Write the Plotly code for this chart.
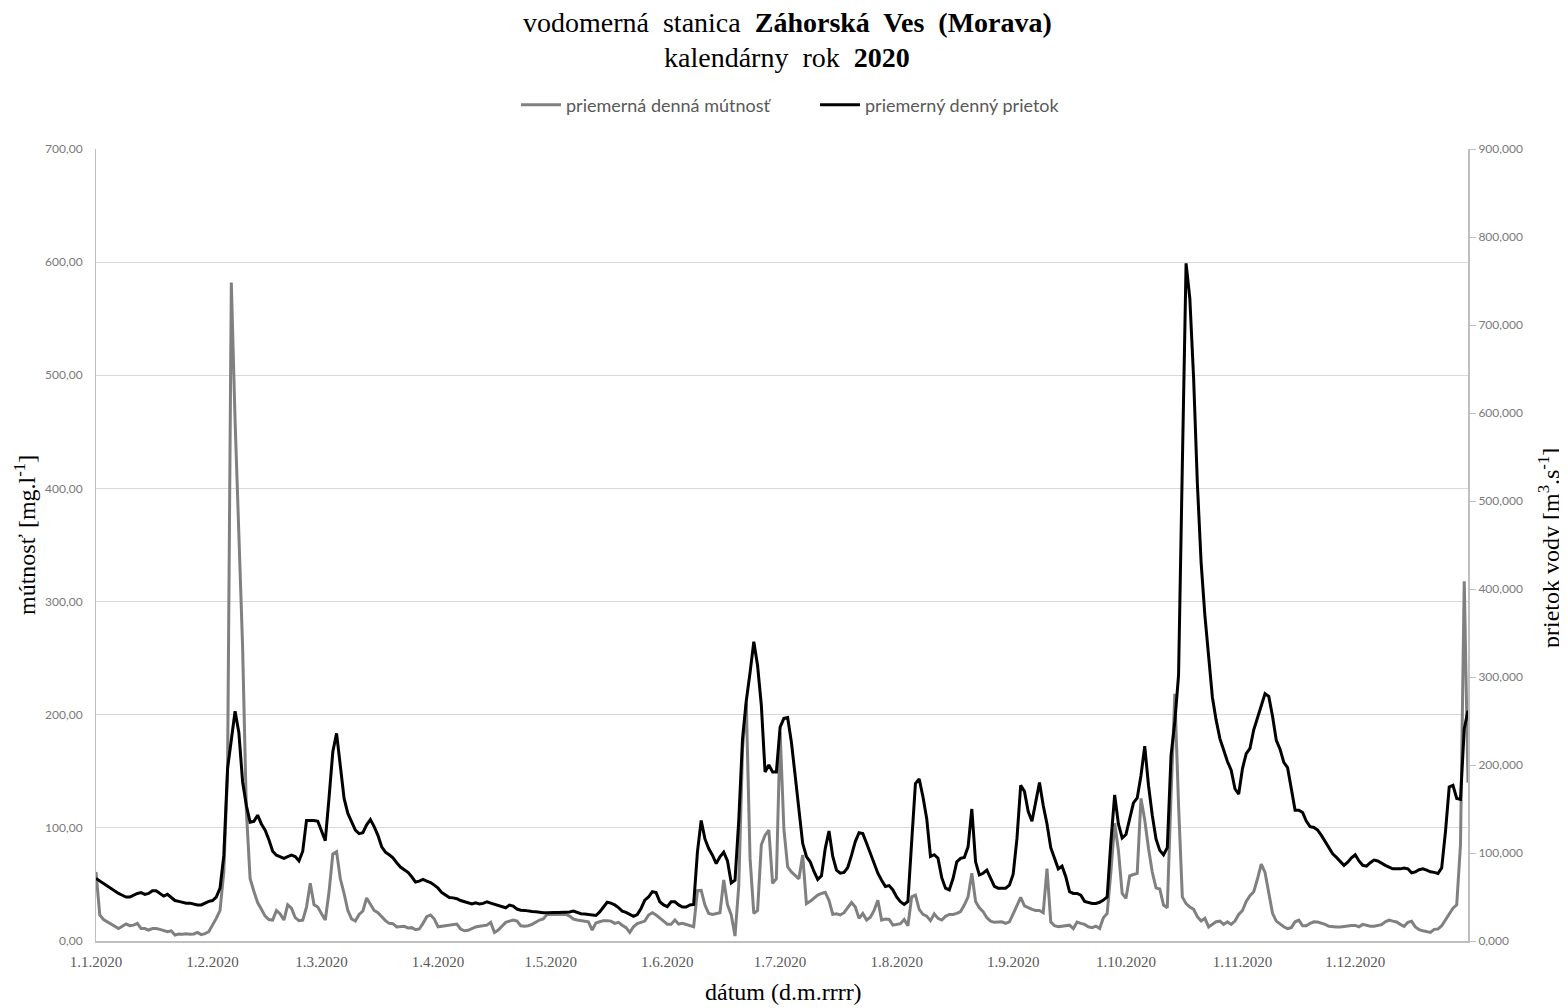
import pandas as pd
import plotly.graph_objects as go

# Daily values for 2020 (366 days), grouped by month
turbidity_jan = [61, 23, 19, 17, 14.7, 12.6, 11, 13, 15, 13.5, 14, 15.6, 11, 11, 9.7, 11, 11, 10.3, 9.4, 8.2,
                 9, 5.3, 6.2, 5.9, 6.5, 5.9, 6.2, 7.6, 5.6, 6.5, 8.2]
turbidity_feb = [13.5, 20, 27, 61, 150, 582, 460, 350, 260, 115, 55, 44, 34, 28, 22, 19, 18.5, 27, 24, 18.5,
                 32, 29, 20.6, 18, 18.5, 30, 51, 32, 30]
turbidity_mar = [24, 18.5, 43.5, 77, 79, 55, 42, 27, 19.4, 17.6, 23.5, 26.5, 38, 33, 27, 25, 21.5, 18, 15.6, 15.3,
                 12.4, 12.4, 13, 11.5, 11.8, 10, 10.6, 15.6, 21.5, 23, 19.4]
turbidity_apr = [12.6, 13, 13.8, 14, 14.7, 15, 10.6, 9, 9.4, 11, 12.4, 13, 13.5, 14, 16.5, 7.6, 9.7, 13.5, 16.5, 17.6,
                 18.5, 17.6, 13.5, 13, 13.5, 14.7, 16.5, 18.5, 19.4, 23.5]
turbidity_may = [23.5, 23.5, 23.5, 23.5, 23.5, 22, 19.4, 18.5, 18, 18, 17, 9.7, 16, 17, 18, 18, 17.6, 15.6, 16.5, 14,
                 11.8, 7.6, 12.6, 15.3, 16.8, 17.6, 23, 25, 23, 20.6, 17.6]
turbidity_jun = [14.7, 14.7, 18.5, 15, 15.6, 14.7, 14, 12.6, 44.4, 44.7, 31.8, 24.4, 23.5, 24, 25, 54, 32, 23, 4.4, 49,
                 170, 210, 73, 24.4, 27, 85, 93.5, 98, 51, 55]
turbidity_jul = [185, 99, 65.6, 61, 58, 55, 76, 33, 35, 37.6, 40.6, 42, 43, 36, 23.5, 24, 23, 25, 29.4, 34,
                 30, 20, 24.4, 18.5, 21, 27, 36, 18.5, 19.4, 19, 14]
turbidity_aug = [14.7, 15.3, 19, 13.5, 39, 40.6, 28, 23.5, 22, 18, 24, 20, 18.5, 21.8, 23.5, 23.5, 24.4, 26, 31.8, 39,
                 60, 35, 29.4, 26, 20.6, 17.6, 16.5, 17, 17, 15.6, 17]
turbidity_sep = [24, 31.8, 38.5, 31, 29.4, 28, 27, 27, 25, 64, 17, 13.5, 12.6, 13.2, 14, 14, 11, 16.8, 15.6, 14.7,
                 12.6, 11.8, 13.2, 11, 20.6, 24.4, 61, 104, 80, 42]
turbidity_oct = [37.6, 57.6, 58.8, 59.7, 126, 107, 82, 61, 47, 46, 31.8, 29.4, 129, 218.5, 120, 39, 33, 30, 28, 21.5,
                 17.6, 20, 12.4, 15, 17, 17.6, 14.7, 17, 14.7, 17.6, 23.5]
turbidity_nov = [27, 35, 40, 43.5, 55, 68, 60.6, 40.6, 24.4, 17.6, 15, 12.6, 11, 11.8, 17, 18.5, 13.5, 13.5, 15.6, 17,
                 16.8, 16, 14.7, 13, 12.4, 12.4, 12.4, 13, 13.2, 13.8]
turbidity_dec = [13.8, 12.6, 14.7, 13.8, 13, 13, 13.5, 14.4, 17, 18.5, 17.6, 16.8, 14.7, 13, 16.5, 17.4, 12.4, 10, 9, 8.2,
                 7.6, 10.3, 10.6, 13.5, 19, 24.4, 29, 32, 85, 318, 140]

flow_jan = [71, 68, 65, 62, 59, 57, 54, 52, 50, 50, 52, 54, 55, 53, 54, 57, 57, 54, 51, 53,
            49, 46, 45, 44, 43, 43, 42, 41, 41, 43, 45]
flow_feb = [46, 50, 60, 97, 196, 230, 261, 237, 181, 154, 135, 136, 143, 133, 126, 115, 102, 97.5, 96, 94,
            96, 97.5, 96, 91, 102, 137, 137, 137, 136]
flow_mar = [125, 114, 163, 215, 236, 200, 162, 145, 135, 126, 122, 123, 132, 138, 130, 120, 107, 101, 98, 94.5,
            89, 84, 81, 78, 73, 67, 68, 70, 68, 66.5, 63.5]
flow_apr = [60, 55, 52, 49.5, 49, 48, 46, 44.6, 43.5, 42, 43.5, 42, 42.7, 44.6, 43, 41.6, 40.4, 39, 37.8, 40.8,
            39.7, 36.3, 35, 34.8, 34, 33.6, 33.3, 32.5, 32, 32]
flow_may = [32.5, 32.5, 32.5, 32.5, 32.5, 33, 34, 32.5, 31, 30.6, 30, 30, 29, 33, 38, 44, 43, 41, 38, 34,
            32.5, 30, 28, 30, 37, 46.5, 50, 56, 55, 44.6, 41]
flow_jun = [39, 44.6, 44.6, 41, 38.6, 38.6, 41, 41.6, 101, 137, 116, 105, 97.5, 88, 95.6, 101, 91, 66, 69, 137,
            230, 273, 305, 340, 313, 268, 192, 200, 192, 192]
flow_jul = [243, 253, 254, 226, 188, 150, 111, 96, 90, 79, 70, 74, 105, 125, 96, 80.5, 77, 78, 83.5, 97.5,
            113, 123, 122, 111, 99, 88, 77, 69, 62, 63, 58]
flow_aug = [50, 44.6, 41.6, 45, 113, 179, 184, 164, 139, 96, 98, 94, 72, 60, 58, 71, 90, 94, 95, 107,
            150, 90, 75, 77, 80.5, 72, 62, 60, 60, 60, 63.5]
flow_sep = [76, 116, 177, 170, 147, 136, 156, 180, 154, 133, 106, 93, 82, 85, 73, 56, 54, 54, 52, 45,
            43.5, 42.7, 42.7, 44, 46.5, 50, 113, 166, 133, 117]
flow_oct = [121, 141, 157, 162.5, 188, 221.5, 177, 143, 116, 103, 98, 106, 211, 249, 302, 540, 770, 730, 640, 520,
            430, 370, 324, 277, 251, 230, 217, 204, 194, 173, 167]
flow_nov = [196, 213, 219, 240, 253, 266, 281, 278, 255.5, 228, 218, 203, 197, 173, 148.5, 148.5, 146, 136, 130, 129,
            126, 120, 113, 106, 99, 95, 90, 86, 89.6, 94.5]
flow_dec = [98, 91, 86, 85, 89, 92, 91, 88, 86, 84, 82, 82, 82, 83, 82, 77.5, 78.6, 81, 82, 80.5,
            78.6, 78, 76.7, 83, 124, 175, 177, 162, 161, 241, 262]

turbidity = (turbidity_jan + turbidity_feb + turbidity_mar + turbidity_apr + turbidity_may + turbidity_jun +
             turbidity_jul + turbidity_aug + turbidity_sep + turbidity_oct + turbidity_nov + turbidity_dec)
flow = (flow_jan + flow_feb + flow_mar + flow_apr + flow_may + flow_jun +
        flow_jul + flow_aug + flow_sep + flow_oct + flow_nov + flow_dec)

dates = pd.date_range("2020-01-01", "2020-12-31", freq="D")

SERIF = "Liberation Serif, Times New Roman, serif"
SANS = "Lato, Carlito, Calibri, sans-serif"
GREY_TXT = "#595959"
GREY_TICK = "#7a7a7a"
CLEAR = "rgba(0,0,0,0)"

# Pixel positions measured on the reference page, converted to paper coordinates
H_PLOT = 792.0
W_PLOT = 1372.0
def py(pix):
    return (941 - pix) / H_PLOT
def px(pix):
    return (pix - 96) / W_PLOT

# The page adds an 8 px body margin, so the figure is drawn 8 px smaller
fig = go.Figure()
fig.add_trace(go.Scatter(x=dates, y=turbidity, mode="lines", name="priemerná denná mútnosť",
                         line=dict(color="#808080", width=3), yaxis="y"))
fig.add_trace(go.Scatter(x=dates, y=flow, mode="lines", name="priemerný denný prietok",
                         line=dict(color="#000000", width=3), yaxis="y2"))

fig.update_layout(
    width=1559, height=1000,
    margin=dict(l=88, r=99, t=141, b=67),
    paper_bgcolor="white", plot_bgcolor="white",
    separators=", ",
    showlegend=True,
    legend=dict(orientation="h", x=px(815), y=py(105), xanchor="center", yanchor="middle",
                font=dict(family=SANS, size=18, color=GREY_TXT), itemwidth=40,
                entrywidth=244, entrywidthmode="pixels",
                tracegroupgap=0, bgcolor=CLEAR),
    xaxis=dict(type="date", range=["2020-01-01", "2020-12-31"], tick0="2020-01-01", dtick="M1",
               tickformat="%-d.%-m.%Y", showgrid=False, showline=True, linecolor="#bfbfbf", linewidth=2,
               ticks="outside", ticklen=6, tickcolor=CLEAR,
               tickfont=dict(family=SERIF, size=15, color=GREY_TXT), zeroline=False),
    yaxis=dict(range=[0, 700], dtick=100, tickformat=".2f", showgrid=True, gridcolor="#d9d9d9", gridwidth=1,
               showline=True, linecolor="#bfbfbf", linewidth=1, ticks="outside", ticklen=10, tickcolor=CLEAR,
               zeroline=False, tickfont=dict(family=SANS, size=12, color=GREY_TICK)),
    yaxis2=dict(range=[0, 900], dtick=100, tickformat=".3f", overlaying="y", side="right", showgrid=False,
                showline=True, linecolor="#bfbfbf", linewidth=2, ticks="outside", ticklen=6, tickcolor="#bfbfbf",
                zeroline=False, tickfont=dict(family=SANS, size=12, color=GREY_TICK)),
)

fig.add_annotation(text="vodomerná  stanica  <b>Záhorská  Ves  (Morava)</b>", xref="paper", yref="paper",
                   x=px(787), y=py(23), showarrow=False, xanchor="center", yanchor="middle",
                   font=dict(family=SERIF, size=28, color="black"))
fig.add_annotation(text="kalendárny  rok  <b>2020</b>", xref="paper", yref="paper",
                   x=px(787), y=py(57), showarrow=False, xanchor="center", yanchor="middle",
                   font=dict(family=SERIF, size=28, color="black"))
fig.add_annotation(text="mútnosť [mg.l<sup>-1</sup>]", xref="paper", yref="paper",
                   x=px(25), y=py(535), showarrow=False, textangle=-90, xanchor="center", yanchor="middle",
                   font=dict(family=SERIF, size=24, color="black"))
fig.add_annotation(text="prietok vody [m<sup>3</sup>.s<sup>-1</sup>]", xref="paper", yref="paper",
                   x=px(1549), y=py(548), showarrow=False, textangle=-90, xanchor="center", yanchor="middle",
                   font=dict(family=SERIF, size=24, color="black"))
fig.add_annotation(text="dátum (d.m.rrrr)", xref="paper", yref="paper",
                   x=px(783), y=py(992), showarrow=False, xanchor="center", yanchor="middle",
                   font=dict(family=SERIF, size=24, color="black"))

fig.write_html("out.html")
